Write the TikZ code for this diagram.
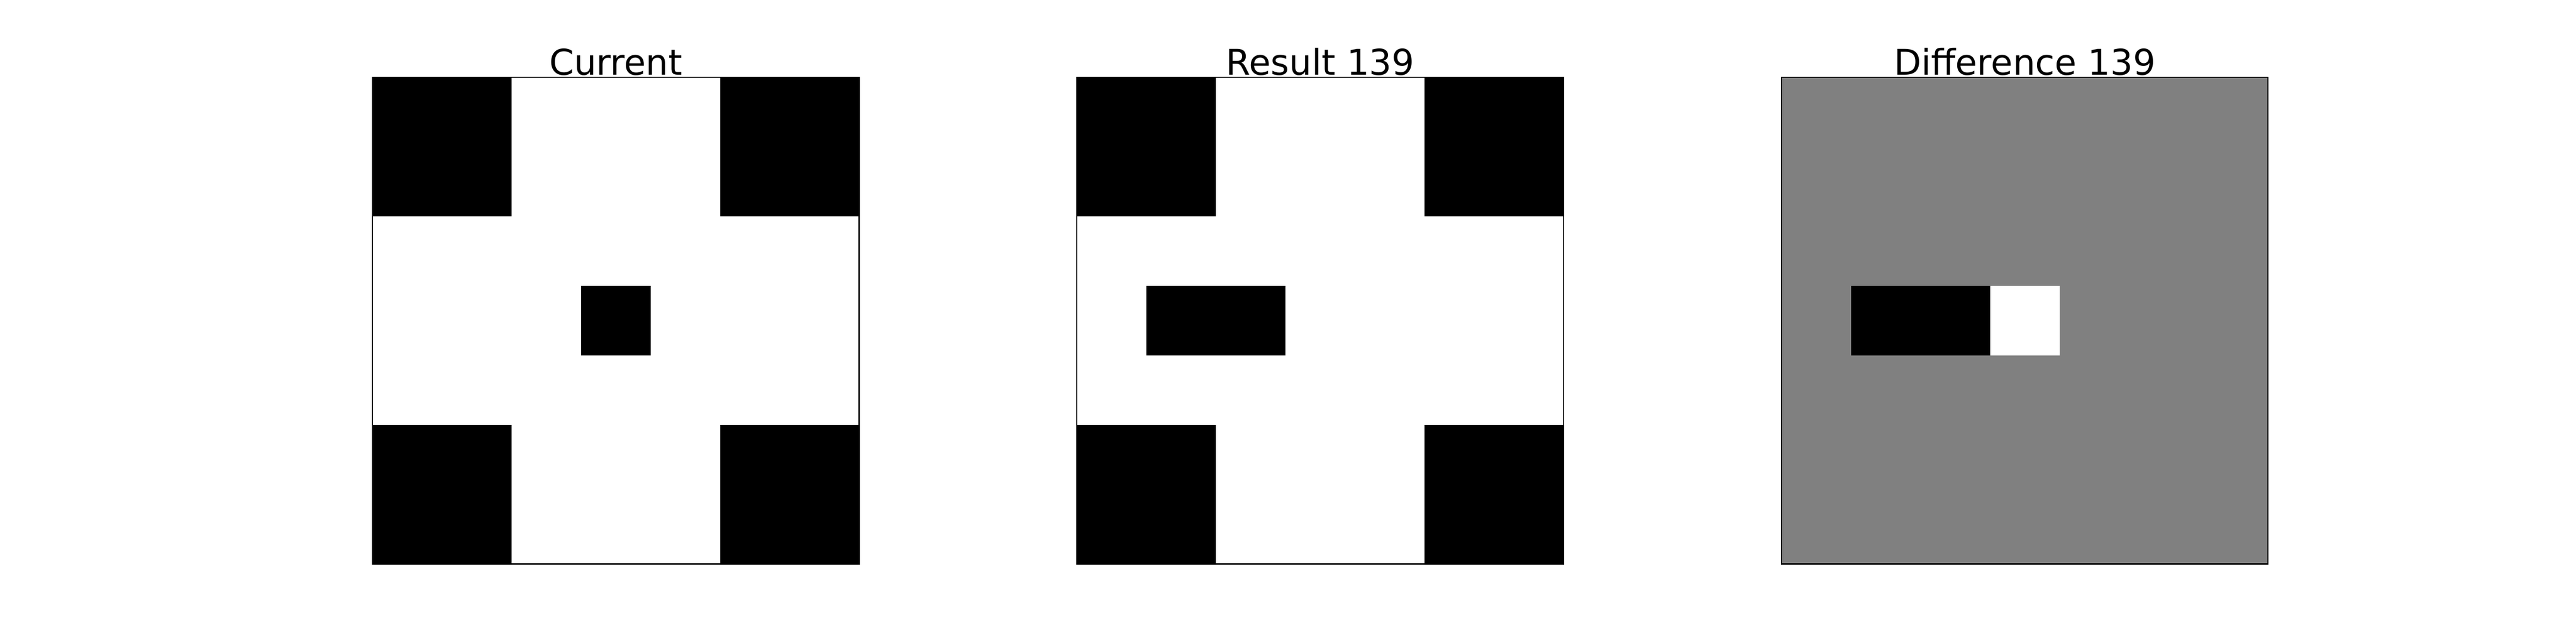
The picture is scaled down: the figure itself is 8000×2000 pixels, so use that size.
\documentclass[tikz,border=0pt]{standalone}
\usepackage{fontspec}
\setmainfont{DejaVu Sans}
\definecolor{diffgray}{RGB}{128,128,128}
\tikzset{
  cellblack/.style={fill=black},
  cellwhite/.style={fill=white},
  panelframe/.style={draw=black, line width=0.037cm},
  paneltitle/.style={anchor=base, inner sep=0pt, font=\fontsize{31.3pt}{36pt}\selectfont}
}
\begin{document}
\begin{tikzpicture}[x=0.01cm, y=-0.01cm]
\useasboundingbox (0,0) rectangle (8000,2000);
\def\cs{215.857}
% ---------- Panel 1: Current ----------
\begin{scope}[shift={(1157,240)}]
  \fill[white] (0,0) rectangle (1511,1511);
  \fill[cellblack] (0,0) rectangle (2*\cs,2*\cs);
  \fill[cellblack] (5*\cs,0) rectangle (7*\cs,2*\cs);
  \fill[cellblack] (0,5*\cs) rectangle (2*\cs,7*\cs);
  \fill[cellblack] (5*\cs,5*\cs) rectangle (7*\cs,7*\cs);
  \fill[cellblack] (3*\cs,3*\cs) rectangle (4*\cs,4*\cs);
  \draw[panelframe] (0,0) rectangle (1511,1511);
\end{scope}
\node[paneltitle] (t1) at (1912.5,232) {Current};
% ---------- Panel 2: Result 139 ----------
\begin{scope}[shift={(3344.5,240)}]
  \fill[white] (0,0) rectangle (1511,1511);
  \fill[cellblack] (0,0) rectangle (2*\cs,2*\cs);
  \fill[cellblack] (5*\cs,0) rectangle (7*\cs,2*\cs);
  \fill[cellblack] (0,5*\cs) rectangle (2*\cs,7*\cs);
  \fill[cellblack] (5*\cs,5*\cs) rectangle (7*\cs,7*\cs);
  \fill[cellblack] (1*\cs,3*\cs) rectangle (3*\cs,4*\cs);
  \draw[panelframe] (0,0) rectangle (1511,1511);
\end{scope}
\node[paneltitle] (t2) at (4100,232) {Result 139};
% ---------- Panel 3: Difference 139 ----------
\begin{scope}[shift={(5532.5,240)}]
  \fill[diffgray] (0,0) rectangle (1511,1511);
  \fill[cellblack] (1*\cs,3*\cs) rectangle (3*\cs,4*\cs);
  \fill[cellwhite] (3*\cs,3*\cs) rectangle (4*\cs,4*\cs);
  \draw[panelframe] (0,0) rectangle (1511,1511);
\end{scope}
\node[paneltitle] (t3) at (6288,232) {Difference 139};
\end{tikzpicture}
\end{document}
